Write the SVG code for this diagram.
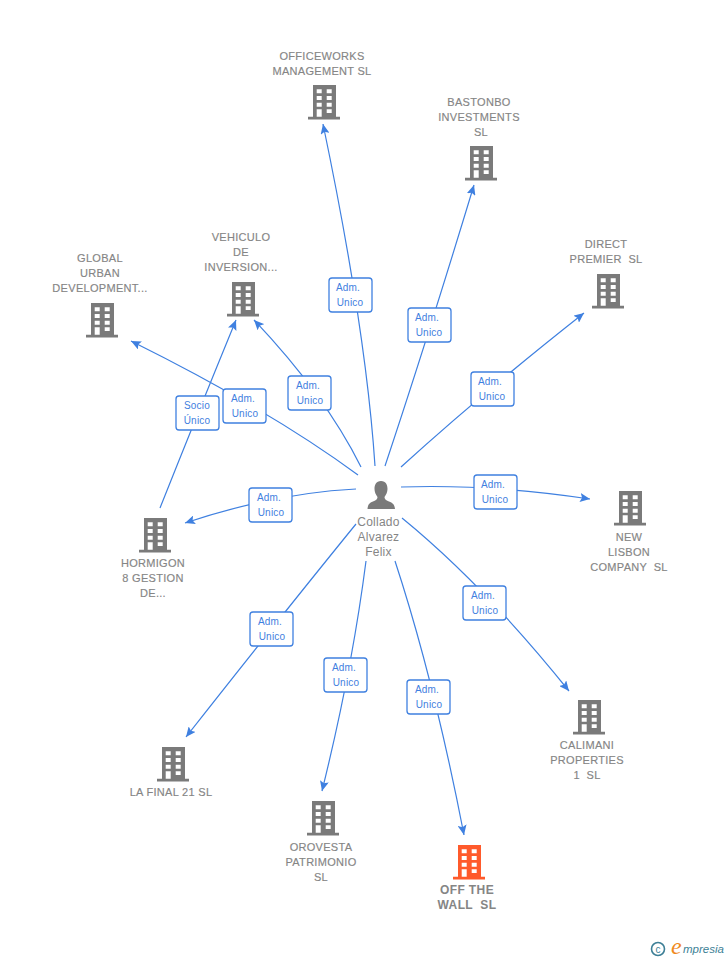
<svg xmlns="http://www.w3.org/2000/svg" width="728" height="960" viewBox="0 0 728 960">
<style>
text{font-family:"Liberation Sans",Arial,sans-serif;white-space:pre}
.n{font-size:11px;fill:#858585;text-anchor:middle;letter-spacing:.3px;stroke:#858585;stroke-width:.15px}
.c{fill:none;stroke:#3f80e0;stroke-width:1.2}
.l rect{fill:#fff;stroke:#3f80e0;stroke-width:1.3}
.l text{font-size:10px;fill:#3f80e0;text-anchor:middle;letter-spacing:.2px}
.p{font-size:12px;fill:#858585;text-anchor:middle;letter-spacing:.25px}
.b{fill:#7a7a7a}
.o{fill:#ff5a2b}
.t{font-size:12px;font-weight:bold;fill:#858585;text-anchor:middle;letter-spacing:.4px}
</style>
<defs>
<marker id="a" markerWidth="11" markerHeight="9" refX="10" refY="4.500" orient="auto" markerUnits="userSpaceOnUse"><path d="M0 0L10 4.500L0 9L2 4.500Z" fill="#3f80e0"/></marker>
<path id="bld" fill-rule="evenodd" d="M-11 0H12V31.700H16V34.500H-16V31.700H-11ZM-7.300 4.300V8.300H-2.300V4.300ZM2.700 4.300V8.300H7.700V4.300ZM-7.300 11V15H-2.300V11ZM2.700 11V15H7.700V11ZM-7.300 17.700V21.700H-2.300V17.700ZM2.700 17.700V21.700H7.700V17.700ZM-7.300 24.300V31.700H-2.300V24.300ZM2.700 24.300V28H7.700V24.300Z"/>
</defs>
<g id="connectors">
<path class="c" marker-end="url(#a)" d="M375 466Q366 330 323 124"/>
<path class="c" marker-end="url(#a)" d="M385 466Q427 340 474 185"/>
<path class="c" marker-end="url(#a)" d="M401 467Q480 395 584 313"/>
<path class="c" marker-end="url(#a)" d="M401 487Q490 484 590 499"/>
<path class="c" marker-end="url(#a)" d="M402 518Q484 585 569 691"/>
<path class="c" marker-end="url(#a)" d="M395 561Q434 680 464 835"/>
<path class="c" marker-end="url(#a)" d="M366 561Q352 670 322 791"/>
<path class="c" marker-end="url(#a)" d="M356 524Q282 615 186 737"/>
<path class="c" marker-end="url(#a)" d="M356 489Q275 493 185 523"/>
<path class="c" marker-end="url(#a)" d="M358 475Q270 410 131 341"/>
<path class="c" marker-end="url(#a)" d="M361 467Q325 395 254 320"/>
<path class="c" marker-end="url(#a)" d="M160 508Q195 420 236 320"/>
</g>
<g id="edge-labels">
<g class="l"><rect x="329" y="278" width="43" height="34" rx="3"/><text x="348" y="291">Adm.</text><text x="350" y="306">Unico</text></g>
<g class="l"><rect x="408" y="308" width="43" height="34" rx="3"/><text x="427" y="321">Adm.</text><text x="429" y="336">Unico</text></g>
<g class="l"><rect x="471" y="372" width="43" height="34" rx="3"/><text x="490" y="385">Adm.</text><text x="492" y="400">Unico</text></g>
<g class="l"><rect x="474" y="475" width="43" height="34" rx="3"/><text x="493" y="488">Adm.</text><text x="495" y="503">Unico</text></g>
<g class="l"><rect x="463" y="586" width="43" height="34" rx="3"/><text x="483" y="599">Adm.</text><text x="485" y="614">Unico</text></g>
<g class="l"><rect x="407" y="680" width="43" height="34" rx="3"/><text x="427" y="693">Adm.</text><text x="429" y="708">Unico</text></g>
<g class="l"><rect x="324" y="658" width="43" height="34" rx="3"/><text x="344" y="671">Adm.</text><text x="346" y="686">Unico</text></g>
<g class="l"><rect x="250" y="612" width="43" height="34" rx="3"/><text x="270" y="625">Adm.</text><text x="272" y="640">Unico</text></g>
<g class="l"><rect x="249" y="488" width="43" height="34" rx="3"/><text x="269" y="501">Adm.</text><text x="271" y="516">Unico</text></g>
<g class="l"><rect x="223" y="389" width="43" height="34" rx="3"/><text x="243" y="402">Adm.</text><text x="245" y="417">Unico</text></g>
<g class="l"><rect x="288" y="376" width="43" height="34" rx="3"/><text x="308" y="389">Adm.</text><text x="310" y="404">Unico</text></g>
<g class="l"><rect x="176" y="396" width="43" height="34" rx="3"/><text x="197" y="409">Socio</text><text x="197" y="424">Único</text></g>
</g>
<g id="person">
<path fill="#7a7a7a" d="M381 481C376 481 374.500 485 374.500 489C374.500 492 376 495 377.500 497C377.500 499 376.500 500 373 501.500C369.500 503 368 504 367.500 509H395C394.500 504 392.500 503 389 501.500C385.500 500 384.500 499 384.500 497C386 495 387.500 492 387.500 489C387.500 485 386 481 381 481Z"/>
<text class="p" x="378.500" y="526">Collado</text><text class="p" x="378.500" y="541">Alvarez</text><text class="p" x="378.500" y="556">Felix</text>
</g>
<g id="officeworks"><use href="#bld" class="b" x="324" y="85"/><text class="n" x="322" y="60">OFFICEWORKS</text><text class="n" x="322" y="75">MANAGEMENT SL</text></g>
<g id="bastonbo"><use href="#bld" class="b" x="481" y="146"/><text class="n" x="479" y="106">BASTONBO</text><text class="n" x="479" y="121">INVESTMENTS</text><text class="n" x="481" y="136">SL</text></g>
<g id="direct"><use href="#bld" class="b" x="608" y="274"/><text class="n" x="606" y="248">DIRECT</text><text class="n" x="606" y="263">PREMIER  SL</text></g>
<g id="global"><use href="#bld" class="b" x="102" y="303"/><text class="n" x="100" y="262">GLOBAL</text><text class="n" x="100" y="277">URBAN</text><text class="n" x="100" y="292">DEVELOPMENT...</text></g>
<g id="vehiculo"><use href="#bld" class="b" x="243" y="282"/><text class="n" x="241" y="241">VEHICULO</text><text class="n" x="241" y="256">DE</text><text class="n" x="241" y="271">INVERSION...</text></g>
<g id="hormigon"><use href="#bld" class="b" x="155" y="518"/><text class="n" x="153" y="567">HORMIGON</text><text class="n" x="153" y="582">8 GESTION</text><text class="n" x="153" y="597">DE...</text></g>
<g id="newlisbon"><use href="#bld" class="b" x="630" y="491"/><text class="n" x="629" y="541">NEW</text><text class="n" x="629" y="556">LISBON</text><text class="n" x="629" y="571">COMPANY  SL</text></g>
<g id="calimani"><use href="#bld" class="b" x="589" y="700"/><text class="n" x="587" y="749">CALIMANI</text><text class="n" x="587" y="764">PROPERTIES</text><text class="n" x="587" y="779">1  SL</text></g>
<g id="lafinal"><use href="#bld" class="b" x="173" y="747"/><text class="n" x="171" y="796">LA FINAL 21 SL</text></g>
<g id="orovesta"><use href="#bld" class="b" x="323" y="801"/><text class="n" x="321" y="851">OROVESTA</text><text class="n" x="321" y="866">PATRIMONIO</text><text class="n" x="321" y="881">SL</text></g>
<g id="offthewall"><use href="#bld" class="o" x="469" y="845"/><text class="t" x="467" y="894">OFF THE</text><text class="t" x="467" y="909">WALL  SL</text></g>
<g id="credit">
<circle cx="658" cy="949" r="6.500" fill="none" stroke="#3d7f96" stroke-width="1.600"/>
<text x="658" y="952.500" font-size="10" fill="#3d7f96" text-anchor="middle">c</text>
<text x="671" y="954" font-size="24" font-style="italic" fill="#f08a1d" style="font-family:'Liberation Serif',serif">e</text>
<text x="683" y="953" font-size="11.500" font-style="italic" fill="#3d7f96">mpresia</text>
</g>
</svg>
